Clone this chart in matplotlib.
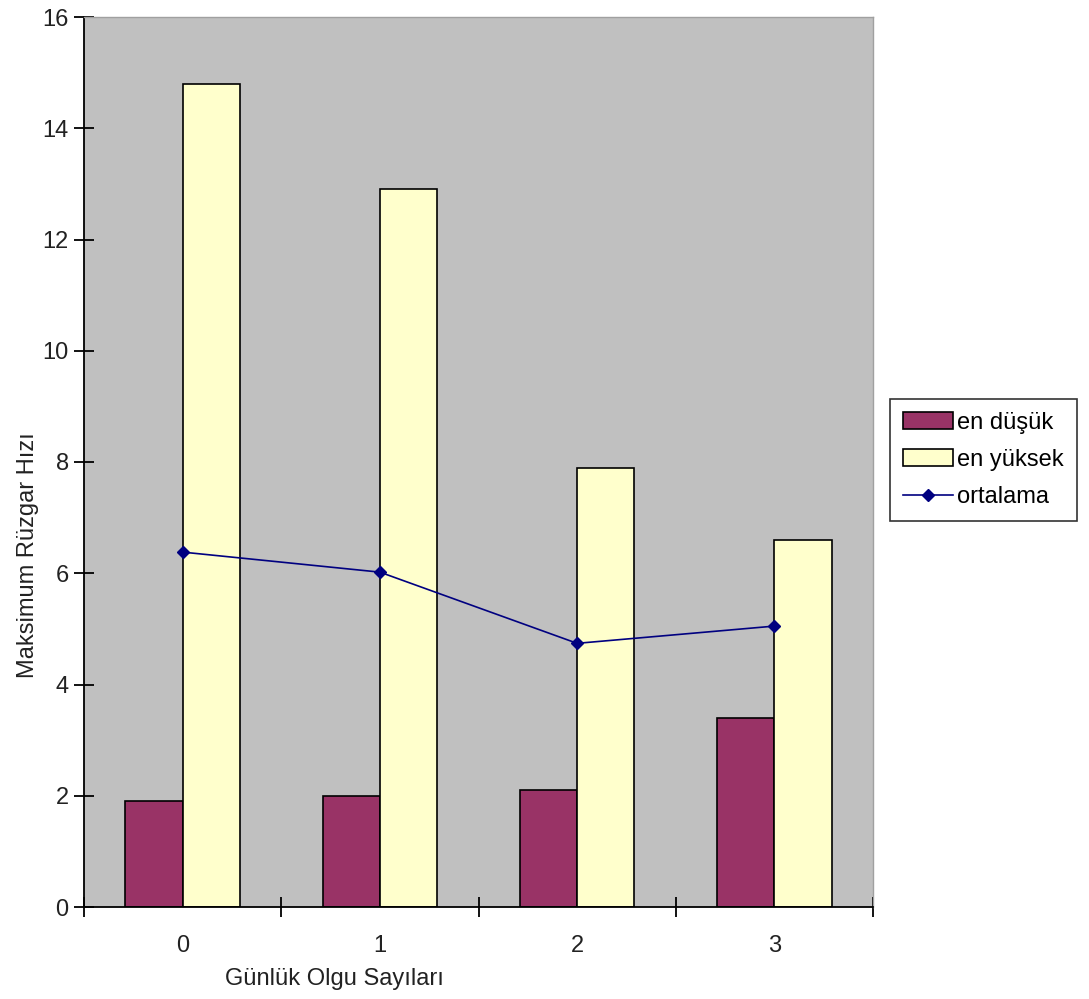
import matplotlib.pyplot as plt
import numpy as np

plt.rcParams['font.family'] = ['Liberation Sans', 'DejaVu Sans']

# Data
categories = ['0', '1', '2', '3']
en_dusuk = [1.9, 2.0, 2.1, 3.4]
en_yuksek = [14.8, 12.9, 7.9, 6.6]
ortalama = [6.38, 6.02, 4.74, 5.05]

fs = 17
fig = plt.figure(figsize=(10.89, 9.99), dpi=100)
ax = fig.add_axes([84 / 1089, 1 - 907 / 999, 789 / 1089, 890 / 999])
ax.set_facecolor('#C0C0C0')

x = np.arange(len(categories))
w = 0.29
b1 = ax.bar(x - w / 2, en_dusuk, w, color='#993366', edgecolor='black', linewidth=1.2,
            label='en düşük', zorder=2)
b2 = ax.bar(x + w / 2, en_yuksek, w, color='#FFFFCC', edgecolor='black', linewidth=1.2,
            label='en yüksek', zorder=2)
l1, = ax.plot(x, ortalama, color='#000080', marker='D', markersize=6, linewidth=1.2,
              label='ortalama', zorder=3)

ax.set_xlim(-0.5, 3.5)
ax.set_ylim(0, 16)
ax.set_yticks(range(0, 17, 2))
ax.set_xticks(x)
ax.set_xticklabels(categories)
ax.set_xticks(np.arange(-0.5, 3.6, 1), minor=True)
ax.tick_params(axis='x', which='major', length=0, pad=20, labelsize=fs, labelcolor='#222222')
ax.tick_params(axis='x', which='minor', direction='inout', length=14, width=1.3)
ax.tick_params(axis='y', direction='inout', length=14, width=1.3, labelsize=fs,
               labelcolor='#222222', pad=4)

for side in ['top', 'right']:
    ax.spines[side].set_color('#A0A0A0')
    ax.spines[side].set_linewidth(1)
for side in ['left', 'bottom']:
    ax.spines[side].set_linewidth(1.3)

ax.set_ylabel('Maksimum Rüzgar Hızı', fontsize=fs, color='#222222')
ax.yaxis.set_label_coords(-0.057, 0.395)
ax.set_xlabel('Günlük Olgu Sayıları', fontsize=fs, color='#222222')
ax.xaxis.set_label_coords(0.318, -0.068)

leg = fig.legend([b1, b2, l1], ['en düşük', 'en yüksek', 'ortalama'],
                 loc='center left', bbox_to_anchor=(890 / 1089, 1 - 460 / 999),
                 fontsize=fs, frameon=True, fancybox=False, edgecolor='black',
                 handlelength=2.1, handletextpad=0.2, borderpad=0.55, labelspacing=0.65,
                 borderaxespad=0)
leg.get_frame().set_linewidth(1.2)

fig.savefig('out.png', dpi=100)
